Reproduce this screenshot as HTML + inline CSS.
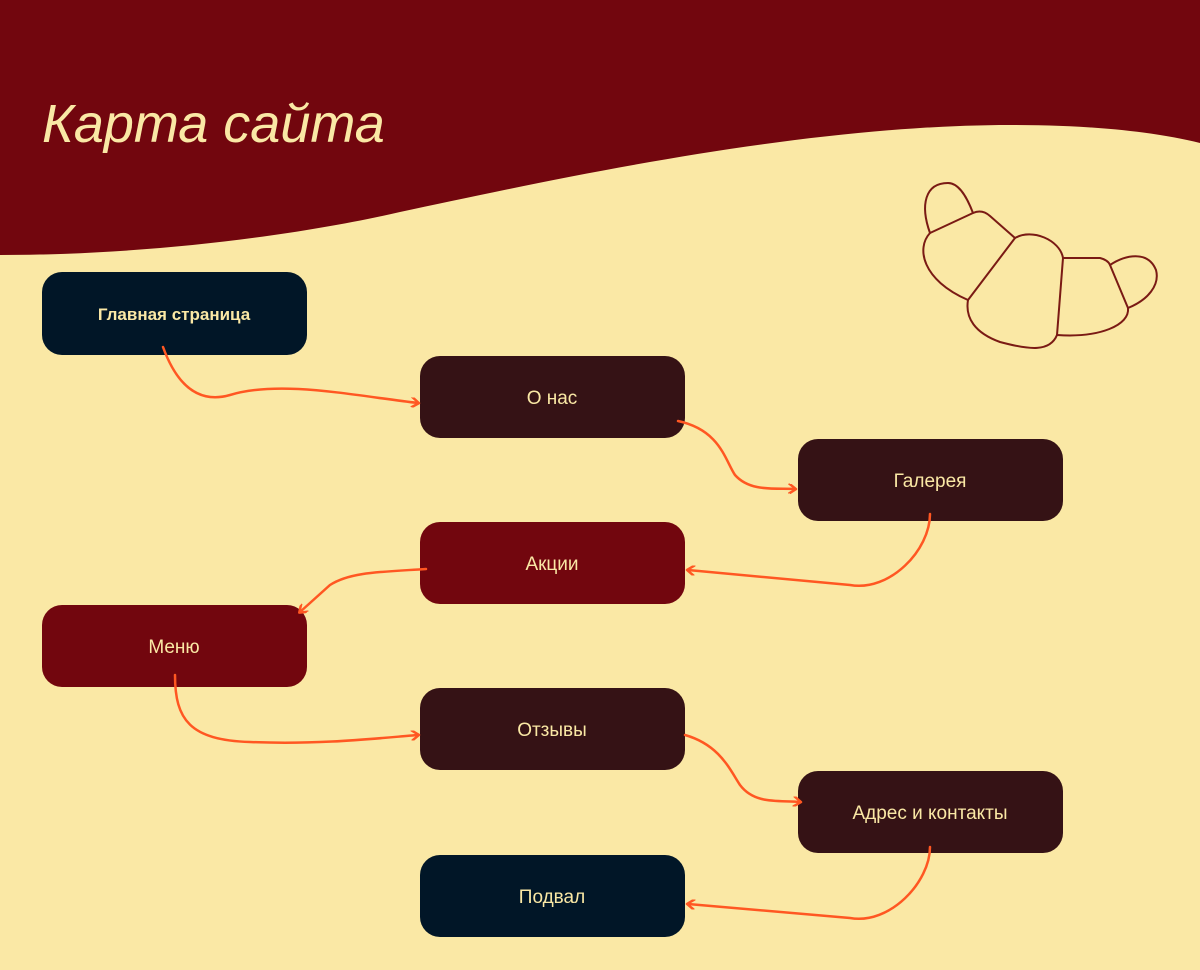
<!DOCTYPE html>
<html><head><meta charset="utf-8"><style>
html,body{margin:0;padding:0;background:#fae8a5;}
svg{display:block}
</style></head><body>
<svg width="1200" height="970" viewBox="0 0 1200 970" xmlns="http://www.w3.org/2000/svg">
<defs>
<marker id="ah" markerWidth="10" markerHeight="10" refX="7" refY="5" orient="auto" markerUnits="userSpaceOnUse">
<path d="M1,0 L8,5 L1,10" fill="none" stroke="#ff5722" stroke-width="2.5" stroke-linecap="round" stroke-linejoin="round"/>
</marker>
</defs>
<rect width="1200" height="970" fill="#fae8a5"/>
<path d="M0,0 H1200 V143 C1160,133 1100,125 1010,125 C800,125 550,180 400,212 C300,235 150,255 0,255 Z" fill="#72060e"/>
<text x="42" y="142" font-family="'Liberation Sans','DejaVu Sans',sans-serif" font-size="54" fill="#fae8a5" font-style="italic">Карта сайта</text>

<g fill="none" stroke="#7a1a14" stroke-width="2" stroke-linejoin="round" stroke-linecap="round">
<path d="M930,233 C920,205 925,183 948,183 C960,183 968,200 973,213"/>
<path d="M930,233 L973,213 Q982,209 990,216 L1015,238"/>
<path d="M930,233 C916,248 922,280 968,300"/>
<path d="M1015,238 L968,300"/>
<path d="M1015,238 C1032,228 1060,240 1063,258 L1057,335"/>
<path d="M968,300 C965,318 975,333 1000,342 C1030,350 1050,352 1057,335"/>
<path d="M1063,258 L1100,258 Q1108,260 1110,265 L1128,308"/>
<path d="M1128,308 C1130,325 1100,338 1057,335"/>
<path d="M1110,265 C1125,255 1148,250 1156,270 C1160,285 1148,300 1128,308"/>
</g>

<g font-family="'Liberation Sans','DejaVu Sans',sans-serif" font-size="19" fill="#fae8a5" text-anchor="middle">
<rect x="42" y="272" width="265" height="83" rx="20" fill="#011627"/>
<text x="174" y="320" font-weight="bold" font-size="17">Главная страница</text>
<rect x="420" y="356" width="265" height="82" rx="20" fill="#351215"/>
<text x="552" y="404">О нас</text>
<rect x="798" y="439" width="265" height="82" rx="20" fill="#351215"/>
<text x="930" y="487">Галерея</text>
<rect x="420" y="522" width="265" height="82" rx="20" fill="#72060e"/>
<text x="552" y="570">Акции</text>
<rect x="42" y="605" width="265" height="82" rx="20" fill="#72060e"/>
<text x="174" y="653">Меню</text>
<rect x="420" y="688" width="265" height="82" rx="20" fill="#351215"/>
<text x="552" y="736">Отзывы</text>
<rect x="798" y="771" width="265" height="82" rx="20" fill="#351215"/>
<text x="930" y="819">Адрес и контакты</text>
<rect x="420" y="855" width="265" height="82" rx="20" fill="#011627"/>
<text x="552" y="903">Подвал</text>
</g>

<g fill="none" stroke="#ff5722" stroke-width="2.5" stroke-linecap="round" marker-end="url(#ah)">
<path d="M163,347 C175,380 195,405 230,395 C280,380 350,395 418,403"/>
<path d="M678,421 C720,430 725,460 735,475 C750,492 775,488 795,489"/>
<path d="M930,514 C930,550 890,592 850,585 L688,570"/>
<path d="M426,569 C380,572 350,572 330,585 L300,612"/>
<path d="M175,675 C175,720 190,740 250,742 C320,745 380,738 418,735"/>
<path d="M685,735 C720,745 730,770 740,785 C755,805 780,800 800,802"/>
<path d="M930,847 C930,882 890,925 850,918 L688,904"/>
</g>
</svg>
</body></html>
